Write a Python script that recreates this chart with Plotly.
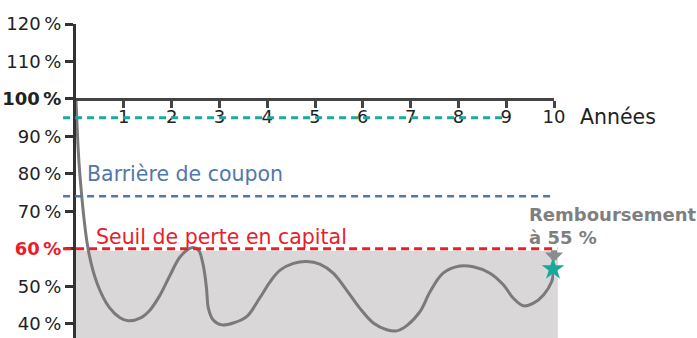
import plotly.graph_objects as go

# Data
years = [0, 0.08, 0.26, 0.45, 0.7, 0.92, 1.09, 1.34, 1.55, 1.76, 1.97, 2.18, 2.42, 2.56, 2.66, 2.73,
         2.77, 2.87, 3.05, 3.29, 3.57, 3.85, 4.06, 4.27, 4.55, 4.83, 5.1, 5.38, 5.66, 5.94, 6.22,
         6.5, 6.71, 6.92, 7.2, 7.41, 7.68, 8.03, 8.31, 8.66, 8.94, 9.15, 9.36, 9.57, 9.78, 9.95, 9.99]
values = [100, 80, 59.5, 50.5, 44.3, 41.6, 40.8, 41.5, 43.7, 47.7, 53, 57.9, 60.3, 59.7, 55.7, 49.5,
          44.1, 41, 39.7, 40.2, 41.9, 47, 51.2, 54.3, 56.1, 56.6, 55.9, 53.5, 49, 44.1, 40.2,
          38.4, 38.1, 39.5, 43.3, 48.6, 53.5, 55.4, 55.2, 53.5, 50.4, 46.8, 44.8, 45.5, 47.7, 51.2, 54]
final_year = [9.98]
final_value = [54.6]
coupon_barrier = 74
autocall_level = 95
capital_threshold = 60
redemption_level = 55
y_ticks = [40, 50, 60, 70, 80, 90, 100, 110, 120]
y_ticktext = ["40\u2009%", "50\u2009%", "<b><span style='color:#e8202a'>60\u2009%</span></b>", "70\u2009%",
              "80\u2009%", "90\u2009%", "<b>100\u2009%</b>", "110\u2009%", "120\u2009%"]
x_ticks = [1, 2, 3, 4, 5, 6, 7, 8, 9, 10]

y_min, y_max = 36.2, 120
FONT = "DejaVu Sans"

fig = go.Figure()

fig.add_trace(go.Scatter(x=years, y=values, mode="lines",
                         line=dict(color="#7a7a7a", width=3, shape="spline", smoothing=1.0,
                                   simplify=False),
                         hoverinfo="skip", showlegend=False))
fig.add_trace(go.Scatter(x=final_year, y=final_value, mode="markers",
                         marker=dict(symbol="star", size=17, color="#17a999"),
                         cliponaxis=False, showlegend=False))

# shaded loss zone
fig.add_shape(type="rect", xref="paper", yref="y", x0=0, x1=1.008, y0=y_min, y1=capital_threshold - 0.5,
              fillcolor="#d9d7d8", line=dict(width=0), layer="below")
# dashed levels
fig.add_shape(type="line", xref="paper", yref="y", x0=-0.027, x1=0.898, y0=autocall_level, y1=autocall_level,
              line=dict(color="#17ab9b", width=3, dash="7px,5px"))
fig.add_shape(type="line", xref="paper", yref="y", x0=-0.027, x1=1.0, y0=coupon_barrier, y1=coupon_barrier,
              line=dict(color="#5277ab", width=2.5, dash="7px,5px"))
fig.add_shape(type="line", xref="paper", yref="y", x0=-0.027, x1=1.007, y0=capital_threshold, y1=capital_threshold,
              line=dict(color="#e8202a", width=3, dash="8px,5px"))

# arrow
fig.add_annotation(x=10, y=redemption_level + 1.6, ax=10, ay=capital_threshold, axref="x", ayref="y",
                   xref="x", yref="y", text="", showarrow=True, arrowhead=1, arrowsize=0.5,
                   arrowwidth=6, arrowcolor="#8a8c8e")

fig.add_annotation(x=0.19, y=80.0, xref="x", yref="y", text="Barrière de coupon",
                   showarrow=False, xanchor="left", yanchor="middle",
                   font=dict(family=FONT, size=20.5, color="#5277ab"))
fig.add_annotation(x=0.38, y=63.2, xref="x", yref="y", text="Seuil de perte en capital",
                   showarrow=False, xanchor="left", yanchor="middle",
                   font=dict(family=FONT, size=20.5, color="#e8202a"))
fig.add_annotation(x=1.05, y=autocall_level + 0.3, xref="paper", yref="y", text="Années",
                   showarrow=False, xanchor="left", yanchor="middle",
                   font=dict(family=FONT, size=20.5, color="#222222"))
fig.add_annotation(x=9.44, y=66.2, xref="x", yref="y", text="<b>Remboursement<br>à 55 %</b>",
                   showarrow=False, xanchor="left", yanchor="middle", align="left",
                   font=dict(family=FONT, size=18, color="#7f7f7f"))

xpos = (100 - y_min) / (y_max - y_min)
fig.update_layout(
    width=697, height=338,
    margin=dict(l=76, r=143, t=24, b=0),
    plot_bgcolor="white", paper_bgcolor="white",
    showlegend=False,
    xaxis=dict(range=[0, 10], tickvals=x_ticks, anchor="free", position=xpos,
               showline=True, linecolor="#444444", linewidth=2.5, ticks="outside",
               ticklen=7, tickwidth=2.5, tickcolor="#444444", showgrid=False, zeroline=False,
               ticklabelstandoff=-6,
               tickfont=dict(family=FONT, size=18, color="#222222")),
    yaxis=dict(range=[y_min, y_max], tickvals=y_ticks, ticktext=y_ticktext,
               showline=True, linecolor="#333333", linewidth=3, ticks="outside",
               ticklen=8, tickwidth=3, tickcolor="#333333", showgrid=False, zeroline=False,
               tickfont=dict(family=FONT, size=18, color="#222222")),
)

fig.write_html("out.html")
